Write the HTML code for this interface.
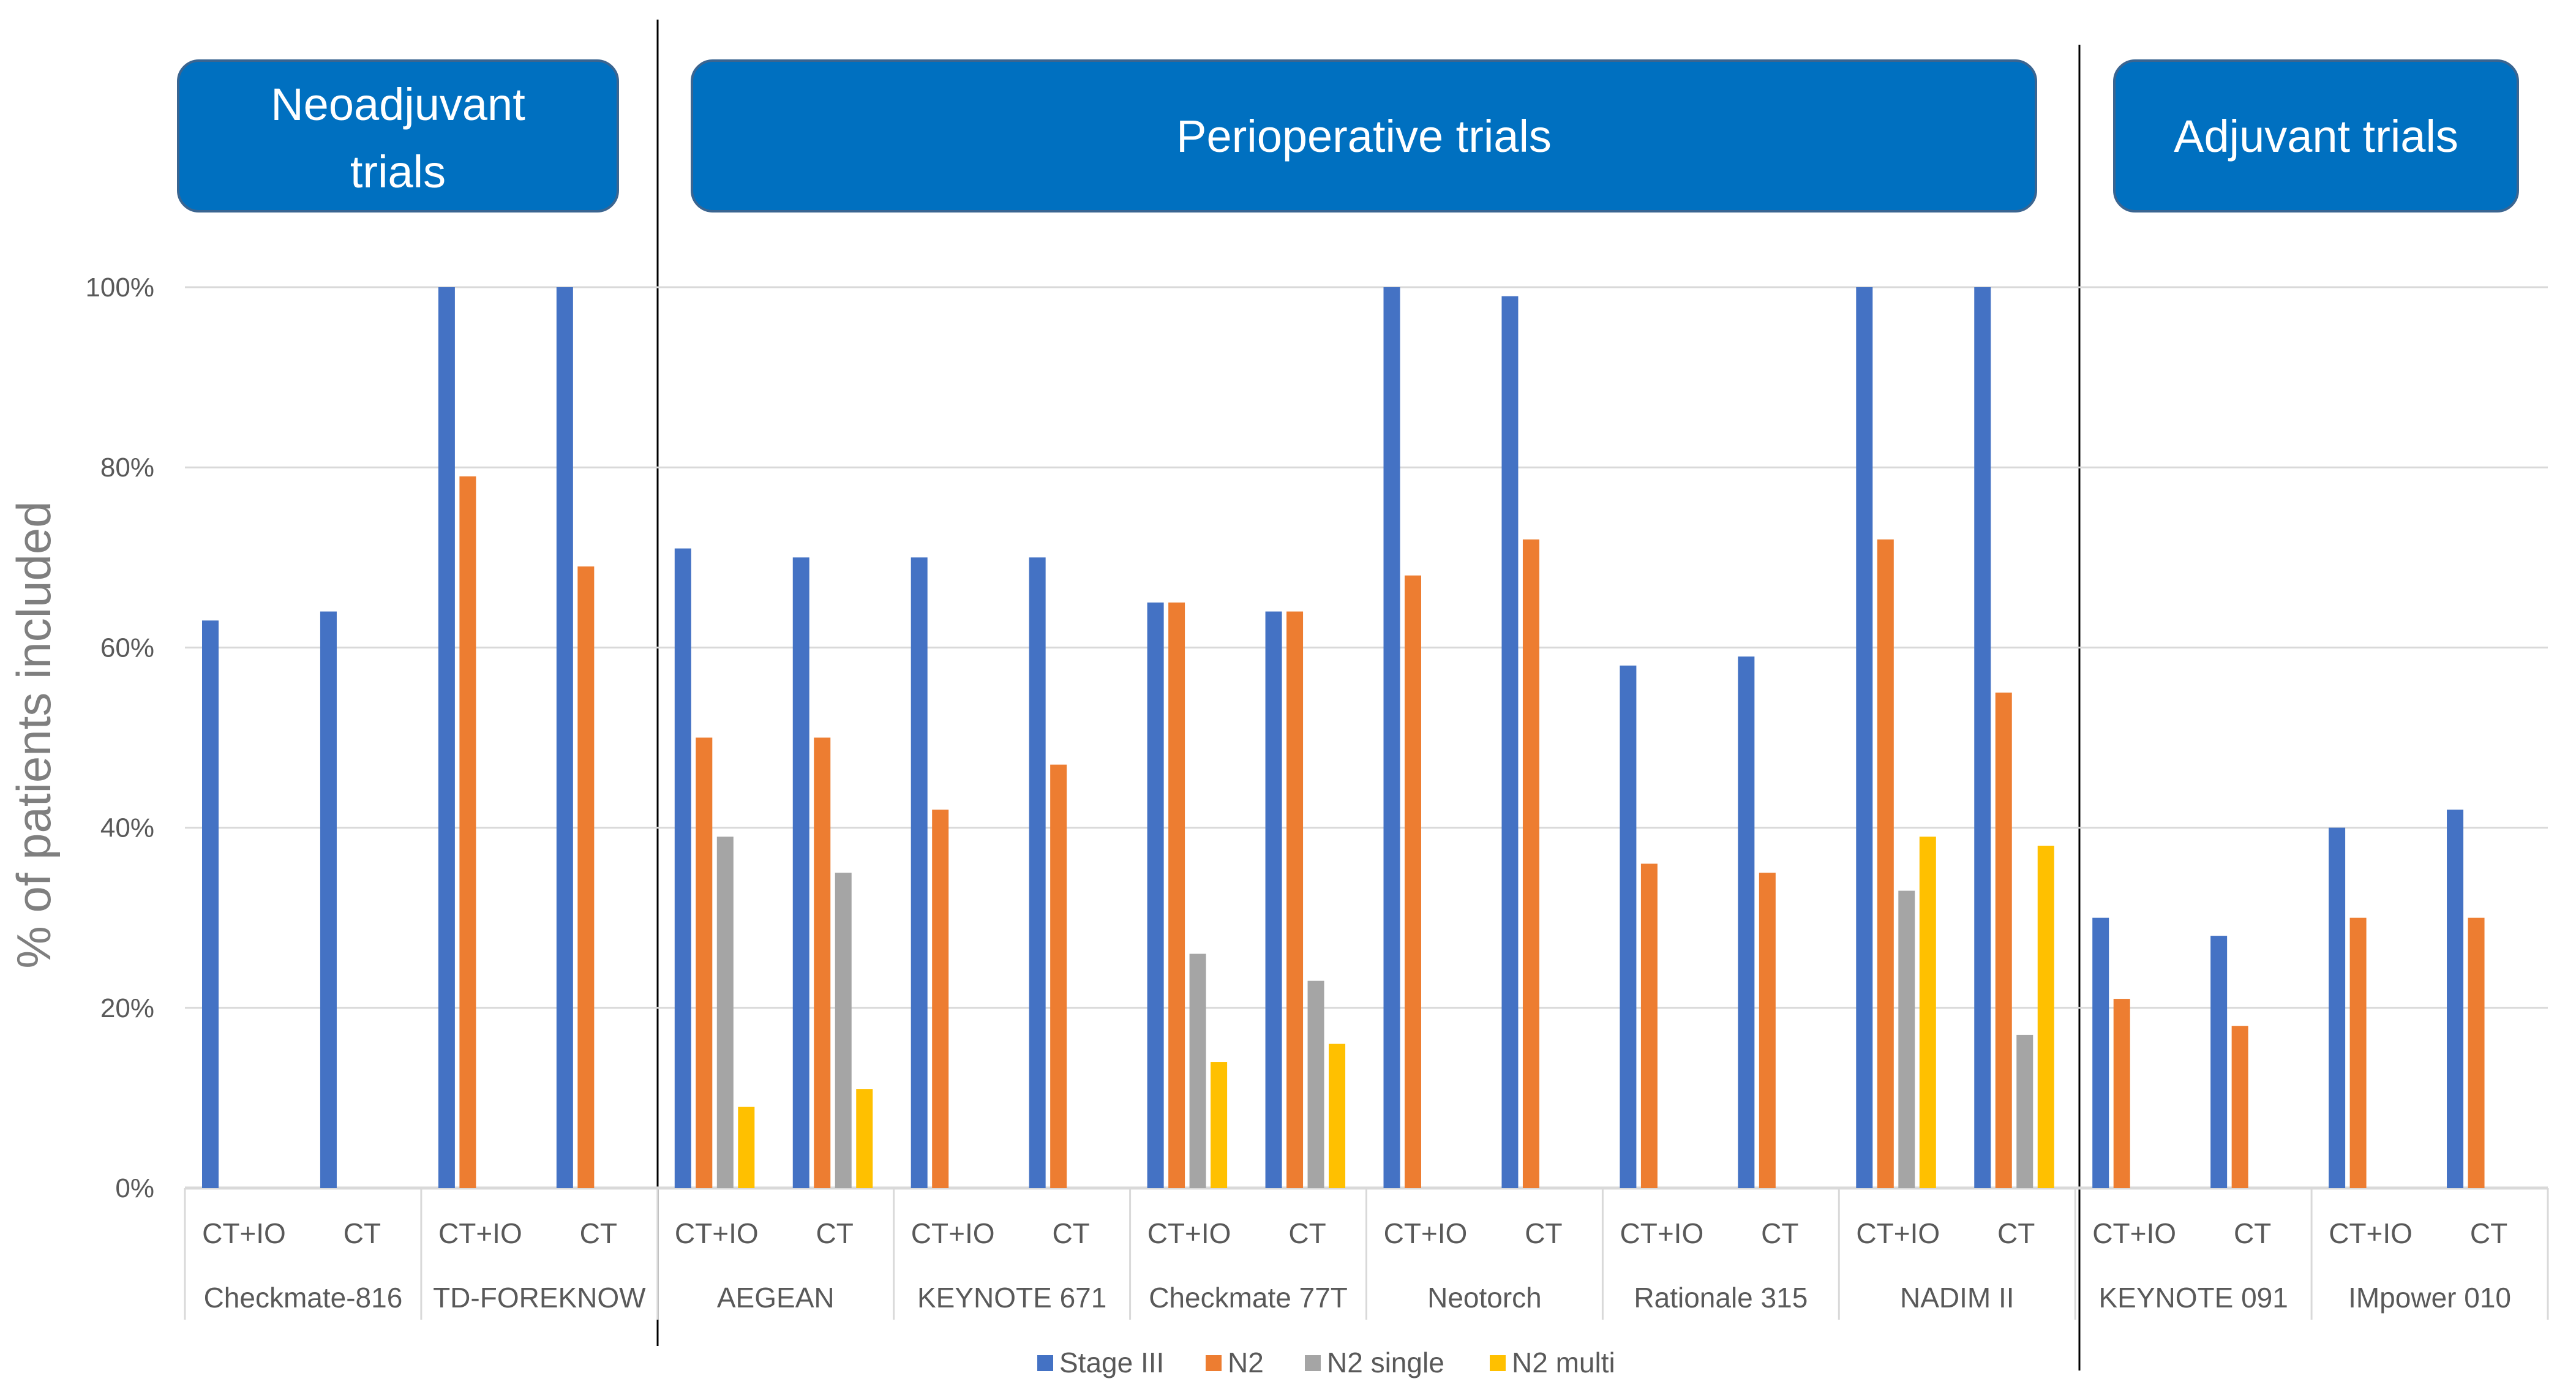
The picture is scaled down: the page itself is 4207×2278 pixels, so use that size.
<!DOCTYPE html>
<html><head><meta charset="utf-8"><style>
html,body{margin:0;padding:0;background:#fff;}
svg{display:block;font-family:"Liberation Sans",sans-serif;}
</style></head><body>
<svg id="chart" width="4207" height="2278" viewBox="0 0 4207 2278" xmlns="http://www.w3.org/2000/svg">
<g id="headers"></g><g id="grid"></g><g id="bars"></g><g id="axis"></g><g id="legend"></g>
</svg>
<script>
const trials = ["Checkmate-816","TD-FOREKNOW","AEGEAN","KEYNOTE 671","Checkmate 77T","Neotorch","Rationale 315","NADIM II","KEYNOTE 091","IMpower 010"];
const arms = ["CT+IO","CT"];
const seriesNames = ["Stage III","N2","N2 single","N2 multi"];
const seriesColors = ["#4472C4","#ED7D31","#A5A5A5","#FFC000"];
const stageIII = [63,64,100,100,71,70,70,70,65,64,100,99,58,59,100,100,30,28,40,42];
const n2 =       [null,null,79,69,50,50,42,47,65,64,68,72,36,35,72,55,21,18,30,30];
const n2single = [null,null,null,null,39,35,null,null,26,23,null,null,null,null,33,17,null,null,null,null];
const n2multi =  [null,null,null,null,9,11,null,null,14,16,null,null,null,null,39,38,null,null,null,null];
const yTicks = [0,20,40,60,80,100];
const yTickLabels = ["0%","20%","40%","60%","80%","100%"];
const NS="http://www.w3.org/2000/svg";
const left=302,right=4161,y0=1940,y100=469;
const nCat=trials.length*arms.length, catW=(right-left)/nCat;
function yS(v){return y0-(v/100)*(y0-y100);}
function xS(i){return left+i*catW;}
function mk(tag,attrs,parent,text){const e=document.createElementNS(NS,tag);for(const k in attrs)e.setAttribute(k,attrs[k]);if(text!=null)e.textContent=text;parent.appendChild(e);return e;}
const G=id=>document.getElementById(id);
const heads=[["Neoadjuvant|trials",291,1009],["Perioperative trials",1130,3325],["Adjuvant trials",3453,4112]];
heads.forEach(h=>{
  const r=mk('rect',{x:h[1],y:99,width:h[2]-h[1],height:246,rx:34,fill:'#0070C0',stroke:'#3A6591','stroke-width':4},G('headers'));
  
  
  const lines=h[0].split('|');
  lines.forEach((l,k)=>{
    const cy=lines.length===1?222:170+k*110;
    const t=mk('text',{x:(h[1]+h[2])/2,y:cy+26,'text-anchor':'middle','font-size':74,fill:'#fff'},G('headers'),l);
    
    
  });
});
[[1074,32,2198],[3396,73,2238]].forEach(d=>{
  const l=mk('line',{x1:d[0],x2:d[0],y1:d[1],y2:d[2],stroke:'#000','stroke-width':3},G('headers'));
  
  
});
yTicks.forEach((v,i)=>{
  const l=mk('line',{x1:left,x2:right,y1:yS(v),y2:yS(v),stroke:'#D9D9D9','stroke-width':v===0?5:3},G('grid'));
  
  
  const t=mk('text',{x:252,y:yS(v)+15,'text-anchor':'end','font-size':44,fill:'#595959'},G('axis'),yTickLabels[i]);
  
  
});
const yt=mk('text',{x:0,y:0,'text-anchor':'middle','font-size':78,fill:'#7F7F7F',transform:'translate(82,1200) rotate(-90)'},G('axis'),'% of  patients included');


const series=[stageIII,n2,n2single,n2multi];
const pitch=34.5,bw=27,off=28;
series.forEach((s,si)=>{
  s.forEach((v,i)=>{
    if(v==null)return;
    const r=mk('rect',{x:xS(i)+off+si*pitch,y:yS(v),width:bw,height:y0-yS(v),fill:seriesColors[si]},G('bars'));
    
    
  });
});
for(let t=0;t<=trials.length;t++){
  const x=xS(t*2);
  const l=mk('line',{x1:x,x2:x,y1:y0,y2:2155,stroke:'#D9D9D9','stroke-width':3},G('axis'));
  
  
}
for(let i=0;i<nCat;i++){
  const t=mk('text',{x:xS(i)+catW/2,y:2030,'text-anchor':'middle','font-size':46,fill:'#595959'},G('axis'),arms[i%2]);
  
  
}
trials.forEach((tr,k)=>{
  const t=mk('text',{x:xS(k*2)+catW,y:2135,'text-anchor':'middle','font-size':46,fill:'#595959'},G('axis'),tr);
  
  
});
const lx=[1694,1969,2131,2433];
seriesNames.forEach((n,i)=>{
  const r=mk('rect',{x:lx[i],y:2213,width:26,height:26,fill:seriesColors[i]},G('legend'));
  
  
  const t=mk('text',{x:lx[i]+36,y:2241,'font-size':46,fill:'#595959'},G('legend'),n);
  
  
});
</script>
</body></html>
